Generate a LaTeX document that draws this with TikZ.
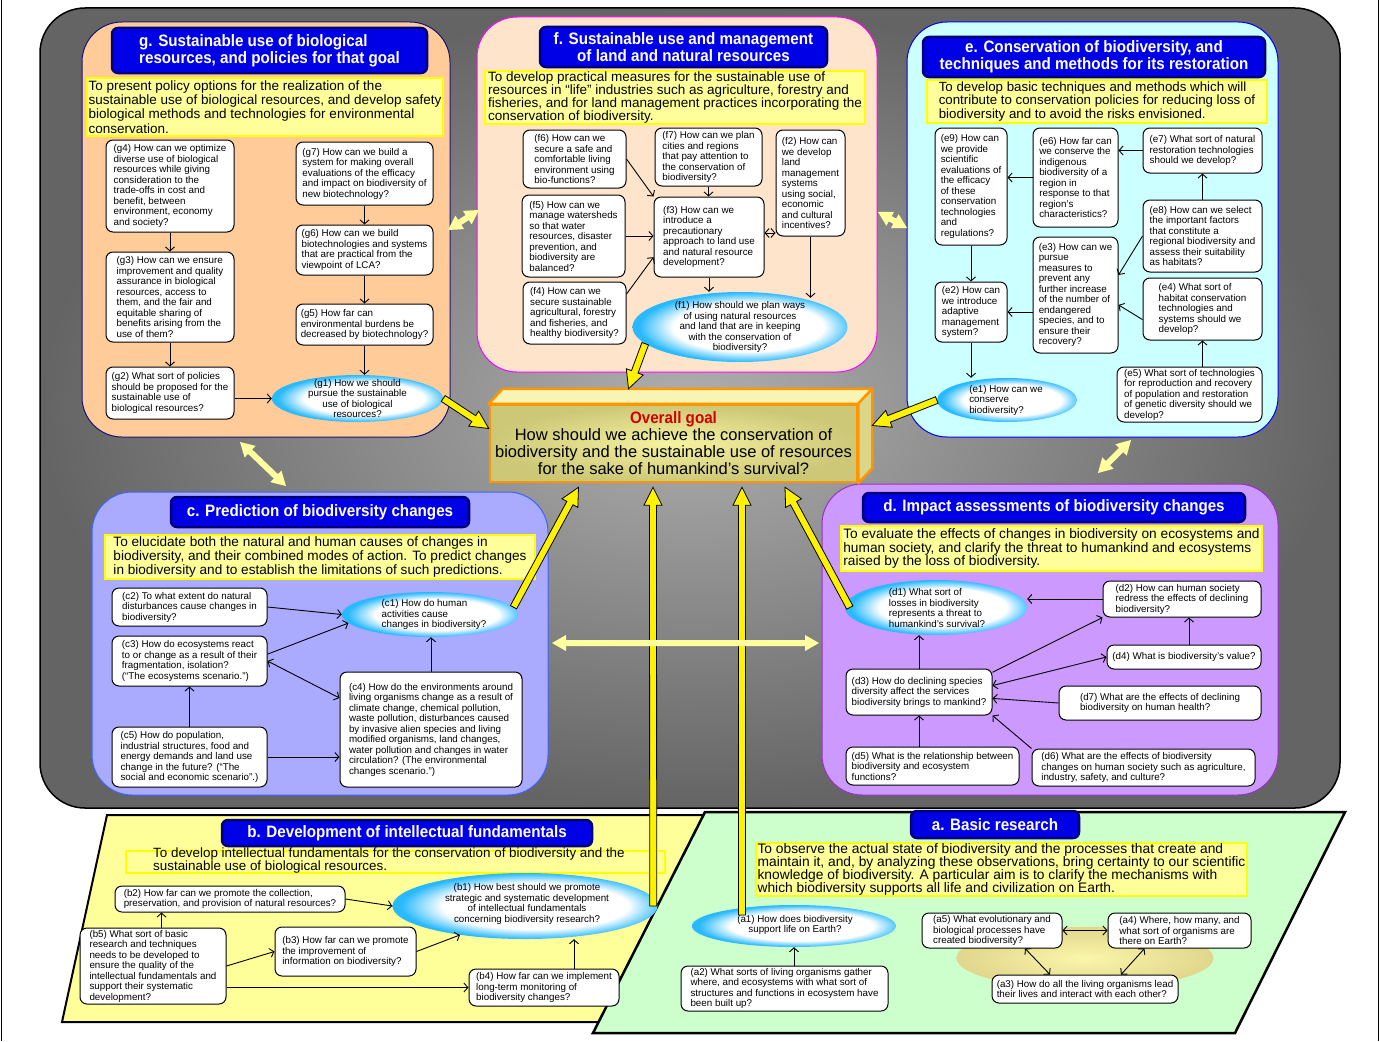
\documentclass[tikz,border=0pt]{standalone}
\usepackage{fontspec}
\setmainfont{Liberation Sans}
\newfontfamily\titlefont[FakeStretch=0.92]{Liberation Sans}
\usetikzlibrary{calc,shapes.geometric,arrows.meta}

\definecolor{bgin}{RGB}{175,175,175}
\definecolor{bgout}{RGB}{100,100,100}
\definecolor{gfill}{RGB}{255,204,153}
\definecolor{gline}{RGB}{20,20,120}
\definecolor{ffill}{RGB}{255,228,204}
\definecolor{fline}{RGB}{255,0,255}
\definecolor{efill}{RGB}{204,255,255}
\definecolor{eline}{RGB}{0,0,255}
\definecolor{cfill}{RGB}{170,170,255}
\definecolor{cline}{RGB}{60,100,255}
\definecolor{dfill}{RGB}{204,153,255}
\definecolor{dline}{RGB}{150,50,200}
\definecolor{bfill}{RGB}{255,255,153}
\definecolor{afill}{RGB}{204,255,204}
\definecolor{titleblue}{RGB}{0,0,230}
\definecolor{titlenavy}{RGB}{0,0,120}
\definecolor{objfill}{RGB}{255,255,153}
\definecolor{objline}{RGB}{255,255,0}
\definecolor{ellblue}{RGB}{40,185,255}
\definecolor{khin}{RGB}{250,246,170}
\definecolor{khout}{RGB}{225,214,140}
\definecolor{goalin}{RGB}{245,242,160}
\definecolor{goalout}{RGB}{205,200,120}
\definecolor{goaltop}{RGB}{248,245,180}
\definecolor{goalside}{RGB}{220,214,138}
\definecolor{goalline}{RGB}{255,150,0}
\definecolor{goalred}{RGB}{210,0,0}
\definecolor{dbfill}{RGB}{255,255,160}

\pgfdeclareradialshading{ellshade}{\pgfpoint{3bp}{0bp}}{color(0bp)=(white); color(17.5bp)=(white); color(25bp)=(ellblue); color(50bp)=(ellblue)}

\def\fatarrow(#1)(#2){%
  \coordinate (fa-base) at ($(#2)!18pt!(#1)$);
  \filldraw[fatarrow] ($(#1)!3.5pt!90:(#2)$) -- ($(fa-base)!3.5pt!90:(#2)$) -- ($(fa-base)!9pt!90:(#2)$) -- (#2) -- ($(fa-base)!9pt!-90:(#2)$) -- ($(fa-base)!3.5pt!-90:(#2)$) -- ($(#1)!3.5pt!-90:(#2)$) -- cycle;}
\def\dblarrow(#1)(#2){%
  \coordinate (da-p) at ($(#1)!14pt!(#2)$);
  \coordinate (da-q) at ($(#2)!14pt!(#1)$);
  \fill[dblarrow] (#1) -- ($(da-p)!8pt!90:(#2)$) -- ($(da-p)!3pt!90:(#2)$) -- ($(da-q)!3pt!90:(#2)$) -- ($(da-q)!8pt!90:(#2)$) -- (#2) -- ($(da-q)!8pt!-90:(#2)$) -- ($(da-q)!3pt!-90:(#2)$) -- ($(da-p)!3pt!-90:(#2)$) -- ($(da-p)!8pt!-90:(#2)$) -- cycle;}

\begin{document}
\begin{tikzpicture}[x=1pt, y=-1pt,
  qbox/.style={draw=black, fill=white, line width=1pt, rounded corners=7pt, align=left, inner xsep=2pt, inner ysep=1pt, font=\fontsize{9.8}{10.5}\selectfont},
  qell/.style={ellipse, shade, shading=ellshade, inner sep=0pt},
  elltext/.style={inner sep=0pt, font=\fontsize{9.8}{10.5}\selectfont},
  qline/.style={line width=0.9pt, -{Straight Barb[length=4pt,width=9pt]}},
  qboth/.style={line width=0.9pt, {Straight Barb[length=4pt,width=9pt]}-{Straight Barb[length=4pt,width=9pt]}},
  titlebox/.style={fill=titleblue, draw=titlenavy, line width=2.5pt, rounded corners=6pt, text=white, align=center, inner sep=0pt, font=\titlefont\bfseries\fontsize{16.5}{17}\selectfont},
  objbox/.style={fill=objfill, draw=objline, line width=1.5pt, align=left, inner xsep=1pt, inner ysep=0pt, font=\fontsize{13.6}{13.9}\selectfont},
  panel/.style={line width=1pt, rounded corners=40pt},
  fatarrow/.style={fill=yellow, draw=black, line width=0.8pt, line join=miter},
  dblarrow/.style={fill=dbfill}]

			%%%%% FRAME %%%%%
			\useasboundingbox (0,0) rectangle (1380,1041);
			\fill[white] (0,0) rectangle (1380,1041);
			\draw[line width=1.5pt] (1.5,0) -- (1.5,1041);
			\draw[line width=1.5pt] (1378.5,0) -- (1378.5,1041);
			\shadedraw[inner color=bgin, outer color=bgout, draw=black, line width=1.5pt, rounded corners=45pt] (40,8) rectangle (1340,808);
			
			%%%%% PANELS %%%%%
			\filldraw[panel, fill=gfill, draw=gline] (82,22) rectangle (450,437);
			\filldraw[panel, fill=ffill, draw=fline] (477,17) rectangle (877,372);
			\filldraw[panel, fill=efill, draw=eline] (907,22) rectangle (1278,437);
			\filldraw[panel, fill=cfill, draw=cline] (92,492) rectangle (548,795);
			\filldraw[panel, fill=dfill, draw=dline] (822,484) rectangle (1278,795);
			\filldraw[fill=bfill, draw=black, line width=2pt] (107,815) -- (760,815) -- (660,1022) -- (62,1022) -- cycle;
			\filldraw[fill=afill, draw=black, line width=2.5pt] (705,812) -- (1345,812) -- (1235,1033) -- (593,1033) -- cycle;
			
			%%%%% TITLES %%%%%
			\node[titlebox, align=left, minimum width=315pt, minimum height=45pt] (gT) at (269.5,50.5) {g. Sustainable use of biological\\resources, and policies for that goal};
			\node[titlebox, minimum width=287pt, minimum height=40pt] (fT) at (683.5,47) {f. Sustainable use and management\\of land and natural resources};
			\node[titlebox, minimum width=342pt, minimum height=40pt] (eT) at (1094,57) {e. Conservation of biodiversity, and\\techniques and methods for its restoration};
			\node[titlebox, minimum width=298pt, minimum height=30pt] (cT) at (320,512) {c. Prediction of biodiversity changes};
			\node[titlebox, minimum width=382pt, minimum height=29pt] (dT) at (1054,507.5) {d. Impact assessments of biodiversity changes};
			\node[titlebox, minimum width=370pt, minimum height=26pt] (bT) at (407,833) {b. Development of intellectual fundamentals};
			\node[titlebox, minimum width=168pt, minimum height=27pt] (aT) at (995,824.5) {a. Basic research};
			
			%%%%% AIMS %%%%%
			\node[objbox, minimum width=356pt, minimum height=58pt, font=\fontsize{13.5}{14.3}\selectfont] (gO) at (265,107) {To present policy options for the realization of the\\sustainable use of biological resources, and develop safety\\biological methods and technologies for environmental\\conservation.};
			\node[objbox, minimum width=380pt, minimum height=53pt, font=\fontsize{13.5}{13.3}\selectfont] (fO) at (675,97.5) {To develop practical measures for the sustainable use of\\resources in “life” industries such as agriculture, forestry and\\fisheries, and for land management practices incorporating the\\conservation of biodiversity.};
			\node[objbox, minimum width=340pt, minimum height=43pt, font=\fontsize{13.3}{13.9}\selectfont] (eO) at (1097,101.5) {To develop basic techniques and methods which will\\contribute to conservation policies for reducing loss of\\biodiversity and to avoid the risks envisioned.};
			\node[objbox, minimum width=430pt, minimum height=44pt] (cO) at (320,557) {To elucidate both the natural and human causes of changes in\\biodiversity, and their combined modes of action. To predict changes\\in biodiversity and to establish the limitations of such predictions.};
			\node[objbox, minimum width=421pt, minimum height=45pt, font=\fontsize{13.7}{13.9}\selectfont] (dO) at (1051.5,548.5) {To evaluate the effects of changes in biodiversity on ecosystems and\\human society, and clarify the threat to humankind and ecosystems\\raised by the loss of biodiversity.};
			\node[objbox, minimum width=491pt, minimum height=53pt, font=\fontsize{13.8}{13.2}\selectfont] (aO) at (1001.5,869.5) {To observe the actual state of biodiversity and the processes that create and\\maintain it, and, by analyzing these observations, bring certainty to our scientific\\knowledge of biodiversity. A particular aim is to clarify the mechanisms with\\which biodiversity supports all life and civilization on Earth.};
			\node[draw=objline, line width=1.2pt, minimum width=539pt, minimum height=22pt, inner sep=0pt] (bO) at (395.5,862) {};
			\node[anchor=north west, inner sep=0pt, align=left, font=\fontsize{13.4}{13}\selectfont] (bOt) at (153,848) {To develop intellectual fundamentals for the conservation of biodiversity and the\\sustainable use of biological resources.};
			
			%%%%% g %%%%%
			\node[qbox, minimum width=128pt, minimum height=92pt] (g4) at (170,186) {(g4) How can we optimize\\diverse use of biological\\resources while giving\\consideration to the\\trade-offs in cost and\\benefit, between\\environment, economy\\and society?};
			\node[qbox, minimum width=128pt, minimum height=90pt] (g3) at (170,297) {(g3) How can we ensure\\improvement and quality\\assurance in biological\\resources, access to\\them, and the fair and\\equitable sharing of\\benefits arising from the\\use of them?};
			\node[qbox, minimum width=128pt, minimum height=52pt] (g2) at (170,393) {(g2) What sort of policies\\should be proposed for the\\sustainable use of\\biological resources?};
			\node[qbox, minimum width=137pt, minimum height=63pt] (g7) at (364.5,173.5) {(g7) How can we build a\\system for making overall\\evaluations of the efficacy\\and impact on biodiversity of\\new biotechnology?};
			\node[qbox, minimum width=137pt, minimum height=50pt] (g6) at (364.5,250) {(g6) How can we build\\biotechnologies and systems\\that are practical from the\\viewpoint of LCA?};
			\node[qbox, minimum width=137pt, minimum height=41pt] (g5) at (364.5,324.5) {(g5) How far can\\environmental burdens be\\decreased by biotechnology?};
			\node[qell, minimum width=171pt, minimum height=47pt] (g1) at (357.5,398.5) {};
			\node[elltext, align=center] (g1t) at (g1) {(g1) How we should\\pursue the sustainable\\use of biological\\resources?};
			
			\draw[qline] (g4.south) -- (g3.north);
			\draw[qline] (g3.south) -- (g2.north);
			\draw[qline] (g7.south) -- (g6.north);
			\draw[qline] (g6.south) -- (g5.north);
			\draw[qline] (g5.south) -- (g5.south |- g1.north);
			\draw[qline] (g2.east |- g1.west) -- (g1.west);
			
			%%%%% f %%%%%
			\node[qbox, minimum width=103pt, minimum height=58pt] (f6) at (574.5,159) {(f6) How can we\\secure a safe and\\comfortable living\\environment using\\bio-functions?};
			\node[qbox, minimum width=107pt, minimum height=58pt] (f7) at (708.5,157) {(f7) How can we plan\\cities and regions\\that pay attention to\\the conservation of\\biodiversity?};
			\node[qbox, minimum width=69pt, minimum height=106pt] (f2) at (810.5,183) {(f2) How can\\we develop\\land\\management\\systems\\using social,\\economic\\and cultural\\incentives?};
			\node[qbox, minimum width=103pt, minimum height=82pt] (f5) at (573.5,236) {(f5) How can we\\manage watersheds\\so that water\\resources, disaster\\prevention, and\\biodiversity are\\balanced?};
			\node[qbox, minimum width=110pt, minimum height=80pt] (f3) at (709,237) {(f3) How can we\\introduce a\\precautionary\\approach to land use\\and natural resource\\development?};
			\node[qbox, minimum width=103pt, minimum height=62pt] (f4) at (574.5,313) {(f4) How can we\\secure sustainable\\agricultural, forestry\\and fisheries, and\\healthy biodiversity?};
			\node[qell, minimum width=215pt, minimum height=70pt] (f1) at (740,327) {};
			\node[elltext, align=center] (f1t) at (f1) {(f1) How should we plan ways\\of using natural resources\\and land that are in keeping\\with the conservation of\\biodiversity?};
			\coordinate (f1-top) at ([yshift=-6pt]f1.north);
			
			\draw[qline] (f6.east) -- (f3.north west);
			\draw[qline] (f7.south) -- (f7.south |- f3.north);
			\draw[qline] (f5.east) -- (f5.east -| f3.west);
			\draw[qline] (f4.20) -- (f3.200);
			\draw[qboth] ([yshift=4pt]f3.east) -- ([yshift=4pt]f3.east -| f2.west);
			\draw[qline] (f3.south) -- (f3.south |- f1.north);
			\draw[qline] (f2.south) -- (f2.south |- f1-top);
			
			%%%%% e %%%%%
			\node[qbox, minimum width=72pt, minimum height=117pt] (e9) at (971,186.5) {(e9) How can\\we provide\\scientific\\evaluations of\\the efficacy\\of these\\conservation\\technologies\\and\\regulations?};
			\node[qbox, minimum width=85pt, minimum height=99pt] (e6) at (1075.5,177.5) {(e6) How far can\\we conserve the\\indigenous\\biodiversity of a\\region in\\response to that\\region’s\\characteristics?};
			\node[qbox, minimum width=119pt, minimum height=45pt] (e7) at (1202.5,150.5) {(e7) What sort of natural\\restoration technologies\\should we develop?};
			\node[qbox, minimum width=119pt, minimum height=72pt] (e8) at (1202.5,236) {(e8) How can we select\\the important factors\\that constitute a\\regional biodiversity and\\assess their suitability\\as habitats?};
			\node[qbox, minimum width=72pt, minimum height=60pt] (e2) at (971,312) {(e2) How can\\we introduce\\adaptive\\management\\system?};
			\node[qbox, minimum width=85pt, minimum height=116pt] (e3) at (1075.5,295) {(e3) How can we\\pursue\\measures to\\prevent any\\further increase\\of the number of\\endangered\\species, and to\\ensure their\\recovery?};
			\node[qbox, minimum width=119pt, minimum height=62pt] (e4) at (1202.5,309) {(e4) What sort of\\habitat conservation\\technologies and\\systems should we\\develop?};
			\node[qbox, minimum width=145pt, minimum height=55pt] (e5) at (1189.5,394.5) {(e5) What sort of technologies\\for reproduction and recovery\\of population and restoration\\of genetic diversity should we\\develop?};
			\node[qell, minimum width=140pt, minimum height=44pt] (e1) at (1007,400) {};
			\node[elltext, align=left] (e1t) at (1006,400) {(e1) How can we\\conserve\\biodiversity?};
			
			\draw[qline] (e7.west) -- (e7.west -| e6.east);
			\draw[qline] (e6.west) -- (e6.west -| e9.east);
			\draw[qline] (e8.north) -- (e7.south);
			\draw[qline] (e9.south) -- (e2.north);
			\draw[qline] (e8.west) -- (e3.25);
			\draw[qline] (e4.190) -- (e3.347);
			\draw[qline] (e3.west |- e2.east) -- (e2.east);
			\draw[qline] (e5.north -| e4.south) -- (e4.south);
			\draw[qline] (e2.south) -- (e2.south |- e1.north);
			
			%%%%% c %%%%%
			\node[qbox, minimum width=155pt, minimum height=38pt] (c2) at (189.5,607) {(c2) To what extent do natural\\disturbances cause changes in\\biodiversity?};
			\node[qbox, minimum width=155pt, minimum height=50pt] (c3) at (189.5,661) {(c3) How do ecosystems react\\to or change as a result of their\\fragmentation, isolation?\\(“The ecosystems scenario.”)};
			\node[qbox, minimum width=155pt, minimum height=60pt] (c5) at (189.5,757) {(c5) How do population,\\industrial structures, food and\\energy demands and land use\\change in the future? (“The\\social and economic scenario”.)};
			\node[qbox, minimum width=182pt, minimum height=115pt] (c4) at (431,729.5) {(c4) How do the environments around\\living organisms change as a result of\\climate change, chemical pollution,\\waste pollution, disturbances caused\\by invasive alien species and living\\modified organisms, land changes,\\water pollution and changes in water\\circulation? (The environmental\\changes scenario.”)};
			\node[qell, minimum width=176pt, minimum height=45pt] (c1) at (430,614.5) {};
			\node[elltext, align=left] (c1t) at (434,614.5) {(c1) How do human\\activities cause\\changes in biodiversity?};
			
			\draw[qline] (c2.east) -- (c1.west);
			\draw[qline] (c3.5) -- (c1.186);
			\draw[qboth] (c3.east) -- (c4.161);
			\draw[qline] (c5.north) -- (c3.south);
			\draw[qline] (c5.east) -- (c5.east -| c4.west);
			\draw[qline] (c4.north) -- (c4.north |- c1.south);
			
			%%%%% d %%%%%
			\node[qbox, minimum width=158pt, minimum height=36pt] (d2) at (1182,599) {(d2) How can human society\\redress the effects of declining\\biodiversity?};
			\node[qbox, minimum width=154pt, minimum height=24pt] (d4) at (1184,657) {(d4) What is biodiversity’s value?};
			\node[qbox, minimum width=146pt, minimum height=46pt] (d3) at (919,692) {(d3) How do declining species\\diversity affect the services\\biodiversity brings to mankind?};
			\node[qbox, minimum width=202pt, minimum height=34pt] (d7) at (1160,703) {(d7) What are the effects of declining\\biodiversity on human health?};
			\node[qbox, minimum width=173pt, minimum height=38pt] (d5) at (932.5,766) {(d5) What is the relationship between\\biodiversity and ecosystem\\functions?};
			\node[qbox, minimum width=223pt, minimum height=37pt] (d6) at (1143.5,767.5) {(d6) What are the effects of biodiversity\\changes on human society such as agriculture,\\industry, safety, and culture?};
			\node[qell, minimum width=182pt, minimum height=55pt] (d1) at (936,607.5) {};
			\node[elltext, align=left] (d1t) at (937,608) {(d1) What sort of\\losses in biodiversity\\represents a threat to\\humankind’s survival?};
			\coordinate (d4-top) at ([xshift=5pt]d4.north);
			
			\draw[qline] (d2.west) -- (d2.west -| d1.east);
			\draw[qline] (d4-top) -- (d4-top |- d2.south);
			\draw[qline] (d3.north) -- (d3.north |- d1.south);
			\draw[qline] (d3.15) -- (d2.south west);
			\draw[qboth] (d3.5) -- (d4.west);
			\draw[qline] (d7.west) -- (d3.-5);
			\draw[qline] (d5.north -| d3.south) -- (d3.south);
			\draw[qline] (d6.north west) -- (d3.south east);
			
			%%%%% b %%%%%
			\node[qbox, minimum width=230pt, minimum height=26pt] (b2) at (230,899) {(b2) How far can we promote the collection,\\preservation, and provision of natural resources?};
			\node[qbox, minimum width=146pt, minimum height=76pt] (b5) at (153,966) {(b5) What sort of basic\\research and techniques\\needs to be developed to\\ensure the quality of the\\intellectual fundamentals and\\support their systematic\\development?};
			\node[qbox, minimum width=141pt, minimum height=49pt] (b3) at (345.5,951.5) {(b3) How far can we promote\\the improvement of\\information on biodiversity?};
			\node[qbox, minimum width=150pt, minimum height=37pt] (b4) at (544,987.5) {(b4) How far can we implement\\long-term monitoring of\\biodiversity changes?};
			\node[qell, minimum width=265pt, minimum height=66pt] (b1) at (525,906) {};
			\node[elltext, align=center] (b1t) at (527,904) {(b1) How best should we promote\\strategic and systematic development\\of intellectual fundamentals\\concerning biodiversity research?};
			\coordinate (b5-top) at ([xshift=8.5pt]b5.north);
			\coordinate (b4-top) at ([xshift=30pt]b4.north);
			
			\draw[qline] (b2.east) -- (b1.west);
			\draw[qline] (b5-top) -- (b5-top |- b2.south);
			\draw[qline] (b5.east) -- (b3.west);
			\draw[qline] (b3.east) -- (b1.204);
			\draw[qline] (b5.east |- b4.west) -- (b4.west);
			\draw[qline] (b4-top) -- (b4-top |- b1.south);
			
			%%%%% a %%%%%
			\node[ellipse, minimum width=257pt, minimum height=62pt, inner sep=0pt, shade, inner color=khin, outer color=khout] (aglow) at (1085,958) {};
			\node[qbox, minimum width=207pt, minimum height=45pt] (a2) at (784.5,988.5) {(a2) What sorts of living organisms gather\\where, and ecosystems with what sort of\\structures and functions in ecosystem have\\been built up?};
			\node[qbox, minimum width=140pt, minimum height=35pt] (a5) at (992,930.5) {(a5) What evolutionary and\\biological processes have\\created biodiversity?};
			\node[qbox, minimum width=143pt, minimum height=35pt] (a4) at (1179.5,930.5) {(a4) Where, how many, and\\what sort of organisms are\\there on Earth?};
			\node[qbox, minimum width=186pt, minimum height=28pt] (a3) at (1085,989) {(a3) How do all the living organisms lead\\their lives and interact with each other?};
			\node[qell, minimum width=204pt, minimum height=42pt] (a1) at (794,926) {};
			\node[elltext, align=center] (a1t) at (795,925) {(a1) How does biodiversity\\support life on Earth?};
			
			\draw[qline] (a2.north -| a1.south) -- (a1.south);
			\draw[qboth] (a5.east) -- (a4.west);
			\draw[qboth] ([xshift=33pt]a5.south) -- ([xshift=-35pt]a3.north);
			\draw[qboth] ([xshift=-35pt]a4.south) -- ([xshift=36pt]a3.north);
			
			%%%%% GOAL %%%%%
			\node[shade, inner color=goalin, outer color=goalout, draw=goalline, line width=2.5pt, minimum width=367pt, minimum height=77pt, align=center, inner sep=0pt, font=\fontsize{16.5}{17}\selectfont] (goal) at (673.5,443.5) {{\titlefont\bfseries\color{goalred}\fontsize{16.5}{17}\selectfont Overall goal}\\How should we achieve the conservation of\\biodiversity and the sustainable use of resources\\for the sake of humankind’s survival?};
			\filldraw[fill=goaltop, draw=goalline, line width=2.5pt, line join=round] (goal.north west) -- ([shift={(14pt,15pt)}]goal.north west) -- ([shift={(14pt,15pt)}]goal.north east) -- (goal.north east) -- cycle;
			\filldraw[fill=goalside, draw=goalline, line width=2.5pt, line join=round] (goal.north east) -- ([shift={(14pt,15pt)}]goal.north east) -- ([shift={(14pt,15pt)}]goal.south east) -- (goal.south east) -- cycle;
			
			\coordinate (goal-g) at ([yshift=15pt]goal.west);
			\coordinate (goal-f) at ([shift={(-45pt,15pt)}]goal.north);
			\coordinate (goal-e) at ([shift={(14pt,18pt)}]goal.east);
			\coordinate (goal-c) at ([shift={(-95pt,-4pt)}]goal.south);
			\coordinate (goal-b) at ([shift={(-20.5pt,-4pt)}]goal.south);
			\coordinate (goal-a) at ([shift={(68.5pt,-4pt)}]goal.south);
			\coordinate (goal-d) at ([shift={(111.5pt,-4pt)}]goal.south);
			\coordinate (b1-out) at ([xshift=-4.5pt]b1.east);
			\coordinate (a1-out) at ([shift={(-52pt,11pt)}]a1.center);
			\coordinate (d1-out) at ([xshift=5pt]d1.west);
			
			\fatarrow(g1.east)(goal-g)
			\fatarrow(f1.190)(goal-f)
			\fatarrow(e1.west)(goal-e)
			\fatarrow(c1.5)(goal-c)
			\fatarrow(b1-out)(goal-b)
			\fatarrow(a1-out)(goal-a)
			\fatarrow(d1-out)(goal-d)
			
			%%%%% LINKS BETWEEN PANELS %%%%%
			\coordinate (gf-a) at (448,230);
			\coordinate (gf-b) at (479,210);
			\coordinate (fe-a) at (878,212);
			\coordinate (fe-b) at (907,228);
			\coordinate (gc-a) at (240,442);
			\coordinate (gc-b) at (286,486);
			\coordinate (ed-a) at (1098,473);
			\coordinate (ed-b) at (1131,440);
			\coordinate (cd-a) at (552,643);
			\coordinate (cd-b) at (819,643);
			\dblarrow(gf-a)(gf-b)
			\dblarrow(fe-a)(fe-b)
			\dblarrow(gc-a)(gc-b)
			\dblarrow(ed-a)(ed-b)
			\dblarrow(cd-a)(cd-b)
\end{tikzpicture}
\end{document}
